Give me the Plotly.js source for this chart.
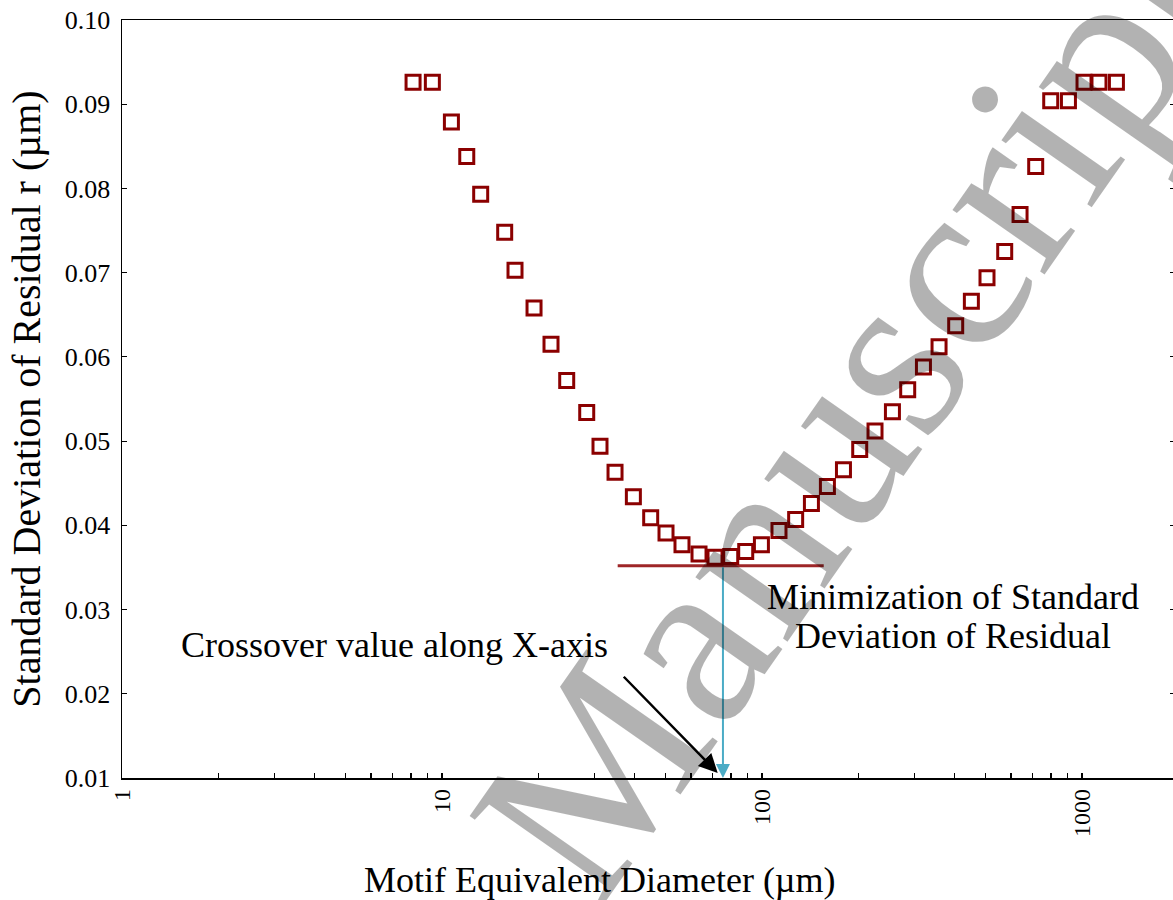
<!DOCTYPE html>
<html>
<head>
<meta charset="utf-8">
<script src="https://cdn.plot.ly/plotly-3.0.1.min.js"></script>
<style>
html, body { margin: 0; padding: 0; overflow: hidden; background: #fff; }
#chart { width: 1176px; height: 900px; }
</style>
</head>
<body>
<div id="chart"></div>
<script>
// Motif equivalent diameter (µm) and standard deviation of residual r (µm)
const diameter = [8.12, 9.33, 10.70, 11.95, 13.21, 15.70, 16.91, 19.39, 21.91, 24.53, 28.33, 31.17, 34.73, 39.63, 44.89, 50.12, 56.23, 63.56, 71.31, 79.84, 88.94, 99.57, 113.0, 127.4, 142.7, 160.1, 179.7, 202.0, 225.5, 255.6, 285.3, 319.5, 357.5, 403.0, 451.1, 504.8, 573.4, 640.3, 716.6, 798.4, 907.0, 1014.6, 1130, 1281];
const stdResidual = [0.0926, 0.0926, 0.0879, 0.0838, 0.0793, 0.0748, 0.0703, 0.0658, 0.0615, 0.0572, 0.0534, 0.0494, 0.0463, 0.0434, 0.0409, 0.0391, 0.0377, 0.0366, 0.0362, 0.0363, 0.0369, 0.0377, 0.0394, 0.0407, 0.0426, 0.0446, 0.0466, 0.0490, 0.0512, 0.0535, 0.0561, 0.0588, 0.0612, 0.0637, 0.0666, 0.0694, 0.0725, 0.0769, 0.0826, 0.0904, 0.0904, 0.0926, 0.0926, 0.0926];

// Minimum line and crossover
const minLineX = [35.4, 155.9];
const minLineY = [0.0352, 0.0352];
const crossoverX = 75.5;
const crossoverArrowTail = [36.6, 0.0222];
const crossoverArrowTip = [72.7, 0.0106];

// Axis ticks
const xTickVals = [1,2,3,4,5,6,7,8,9,10,20,30,40,50,60,70,80,90,100,200,300,400,500,600,700,800,900,1000];
const xTickText = ['1','','','','','','','','','10','','','','','','','','','100','','','','','','','','','1000'];
const yTickVals = [0.01,0.02,0.03,0.04,0.05,0.06,0.07,0.08,0.09,0.10];
const yTickText = ['0.01','0.02','0.03','0.04','0.05','0.06','0.07','0.08','0.09','0.10'];

const xTitle = 'Motif Equivalent Diameter (µm)';
const yTitle = 'Standard Deviation of Residual r (µm)';
const crossoverLabel = 'Crossover value along X-axis';
const minLabel1 = 'Minimization of Standard';
const minLabel2 = 'Deviation of Residual';
const watermark = 'Manuscript';

const serif = 'Liberation Serif, Times New Roman, serif';

const traces = [
  {
    x: minLineX, y: minLineY, mode: 'lines', type: 'scatter',
    line: {color: '#9E2628', width: 3}, hoverinfo: 'skip', showlegend: false
  },
  {
    x: diameter, y: stdResidual, mode: 'markers', type: 'scatter',
    marker: {symbol: 'square-open', size: 14, color: '#8B0000', line: {width: 3, color: '#8B0000'}},
    showlegend: false
  }
];

const layout = {
  width: 1176, height: 900,
  margin: {l: 122, r: 1, t: 20, b: 122},
  paper_bgcolor: '#fff', plot_bgcolor: '#fff',
  showlegend: false,
  xaxis: {
    type: 'log', range: [0, 3.2906],
    tickvals: xTickVals, ticktext: xTickText, tickangle: -90,
    ticks: 'inside', ticklen: 5, tickwidth: 1.2, tickcolor: '#000',
    showline: true, linecolor: '#000', linewidth: 1.5, mirror: true,
    showgrid: false, zeroline: false,
    tickfont: {family: serif, size: 24, color: '#000'}
  },
  yaxis: {
    range: [0.01, 0.10],
    tickvals: yTickVals, ticktext: yTickText,
    ticks: 'inside', ticklen: 5, tickwidth: 1.2, tickcolor: '#000',
    showline: true, linecolor: '#000', linewidth: 1.5, mirror: 'ticks',
    showgrid: false, zeroline: false, ticklabelstandoff: 5,
    tickfont: {family: serif, size: 26, color: '#000'},
    title: {text: yTitle, font: {family: serif, size: 40, color: '#000'}, standoff: 12}
  },
  annotations: [
    {
      x: Math.log10(crossoverX), y: 0.01, ax: Math.log10(crossoverX), ay: minLineY[0],
      xref: 'x', yref: 'y', axref: 'x', ayref: 'y', text: '',
      showarrow: true, arrowhead: 2, arrowsize: 1.4, arrowwidth: 2, arrowcolor: '#4BACC6'
    },
    {
      x: Math.log10(crossoverArrowTip[0]), y: crossoverArrowTip[1],
      ax: Math.log10(crossoverArrowTail[0]), ay: crossoverArrowTail[1],
      xref: 'x', yref: 'y', axref: 'x', ayref: 'y', text: '',
      showarrow: true, arrowhead: 2, arrowsize: 1.5, arrowwidth: 2.5, arrowcolor: '#000'
    },
    {
      x: Math.log10(7.12), y: 0.0258, xref: 'x', yref: 'y', showarrow: false,
      xanchor: 'center', yanchor: 'middle',
      text: crossoverLabel, font: {family: serif, size: 36, color: '#000'}
    },
    {
      x: Math.log10(394.5), y: 0.0315, xref: 'x', yref: 'y', showarrow: false,
      xanchor: 'center', yanchor: 'middle',
      text: minLabel1, font: {family: serif, size: 36, color: '#000'}
    },
    {
      x: Math.log10(394.5), y: 0.0269, xref: 'x', yref: 'y', showarrow: false,
      xanchor: 'center', yanchor: 'middle',
      text: minLabel2, font: {family: serif, size: 36, color: '#000'}
    },
    {
      x: 0.454, y: -0.1346, xref: 'paper', yref: 'paper', showarrow: false,
      xanchor: 'center', yanchor: 'middle',
      text: xTitle, font: {family: serif, size: 36, color: '#000'}
    },
    {
      x: 0.691, y: 0.4855, xref: 'paper', yref: 'paper', showarrow: false,
      xanchor: 'center', yanchor: 'middle',
      text: watermark, textangle: -55,
      font: {family: serif, size: 245, color: 'rgba(0,0,0,0.3)'}
    }
  ]
};

Plotly.newPlot('chart', traces, layout, {displayModeBar: false, staticPlot: true});
</script>
</body>
</html>
